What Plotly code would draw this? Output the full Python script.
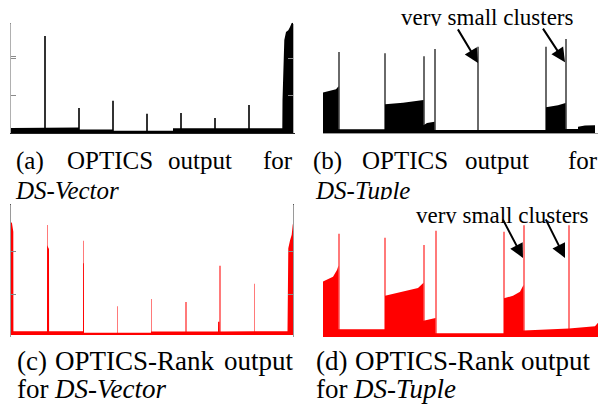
import plotly.graph_objects as go

W, H = 602, 404

# ---------------- data (order index, reachability distance) ----------------
# (a) OPTICS, DS-Vector
a_prof_x = [0, 34, 68, 68, 102, 102, 162, 162, 271.3, 271.5, 272.3, 273.3, 275, 277.3, 279, 280.7, 282]
a_prof_y = [0.14, 0.14, 0.15, 0.10, 0.10, 0.07, 0.07, 0.13, 0.13, 0.87, 2.00, 2.44, 2.65, 2.70, 2.78, 2.89, 2.90]
a_spike_x = [34, 68, 102, 136, 170, 204, 238]
a_spike_y = [2.55, 0.66, 0.85, 0.51, 0.53, 0.40, 0.74]

# (b) OPTICS, DS-Tuple
b_prof_x = [0, 7, 13, 15.5, 15.5, 62, 62, 80, 95, 100.5, 100.5, 104, 111.5, 111.5, 223, 223, 235, 242.5, 242.5, 255, 255, 262, 272]
b_prof_y = [1.08, 1.12, 1.17, 1.25, 0.10, 0.10, 0.77, 0.81, 0.85, 0.88, 0.21, 0.27, 0.30, 0.08, 0.08, 0.69, 0.74, 0.80, 0.11, 0.11, 0.17, 0.20, 0.21]
b_spike_x = [16, 62, 101, 112, 155, 223, 243]
b_spike_y = [2.16, 2.13, 2.05, 2.24, 2.30, 2.30, 2.51]

# (c) OPTICS-Rank, DS-Vector
c_prof_x = [0, 1, 2.3, 2.4, 36, 36.1, 38, 38.1, 72, 72.1, 72.9, 73, 140, 140.1, 207, 207.1, 208.5, 208.6, 276.5, 277.3, 279, 280.7, 281.7, 283]
c_prof_y = [2.63, 2.60, 2.40, 0.09, 0.09, 2.09, 2.00, 0.09, 0.09, 1.67, 1.67, 0.05, 0.05, 0.08, 0.08, 0.31, 0.31, 0.08, 0.09, 2.02, 2.20, 2.33, 2.56, 2.69]
c_spike_x = [36.5, 72.5, 106.5, 140.5, 175, 209, 243.5]
c_spike_y = [2.56, 2.19, 0.67, 0.84, 0.77, 1.61, 1.19]

# (d) OPTICS-Rank, DS-Tuple
d_prof_x = [0, 10, 14, 15.5, 15.5, 62, 62, 80, 95, 100.5, 100.5, 112.5, 112.5, 181, 181, 190, 197, 200.5, 200.5, 246, 246, 272, 275]
d_prof_y = [1.29, 1.40, 1.56, 1.66, 0.18, 0.18, 0.96, 1.05, 1.14, 1.26, 0.38, 0.44, 0.09, 0.09, 0.90, 0.96, 1.05, 1.21, 0.15, 0.20, 0.20, 0.25, 0.33]
d_spike_x = [16, 62, 101, 113, 181, 201, 246]
d_spike_y = [2.40, 2.31, 2.14, 2.47, 2.45, 2.60, 2.60]

# arrows: (spike order, reach at arrow tip)
b_arrow_x = [155, 242]
b_arrow_y = [1.87, 1.89]
d_arrow_x = [200, 242]
d_arrow_y = [1.84, 1.84]

label_text = "very small clusters"
cap_top = [["(a)", "OPTICS", "output", "for"], ["(b)", "OPTICS", "output", "for"]]
cap_top2 = ["<i>DS-Vector</i>", "<i>DS-Tuple</i>"]
cap_bot = [["(c)", "OPTICS-Rank", "output"], ["(d)", "OPTICS-Rank", "output"]]
cap_bot2 = [["for", "<i>DS-Vector</i>"], ["for", "<i>DS-Tuple</i>"]]

# ---------------- layout helpers ----------------
def px_x(x0, x1):
    return [x0 / W, x1 / W]

def px_y(top, bottom):
    return [1 - bottom / H, 1 - top / H]

SERIF = "Liberation Serif, Times New Roman, serif"
fig = go.Figure()

panels = [
    ("x", "y", a_prof_x, a_prof_y, a_spike_x, a_spike_y, "black", "#333333"),
    ("x2", "y2", b_prof_x, b_prof_y, b_spike_x, b_spike_y, "black", "#6a6a6a"),
    ("x3", "y3", c_prof_x, c_prof_y, c_spike_x, c_spike_y, "#ff0000", "#ff7a7a"),
    ("x4", "y4", d_prof_x, d_prof_y, d_spike_x, d_spike_y, "#ff0000", "#ff7a7a"),
]
for xa, ya, px, py, sx, sy, fc, sc in panels:
    fig.add_trace(go.Bar(x=sx, y=sy, width=1, marker=dict(color=sc, line=dict(width=0)),
                         xaxis=xa, yaxis=ya, hoverinfo="skip", showlegend=False))
    fig.add_trace(go.Scatter(x=px, y=py, mode="lines", fill="tozeroy", fillcolor=fc,
                             line=dict(width=0, color=fc), xaxis=xa, yaxis=ya,
                             hoverinfo="skip", showlegend=False))

def text_trace(words, xs, ys, xa, ya, size):
    return go.Scatter(x=xs, y=ys, text=words, mode="text", textposition="middle right",
                      textfont=dict(family=SERIF, size=size, color="black"),
                      cliponaxis=True, xaxis=xa, yaxis=ya, hoverinfo="skip", showlegend=False)

# top captions (helper axis x5/y5, pixel coordinates; baseline = y + size/4)
FS = 25
b1, b2 = 169.3, 198.5
fig.add_trace(text_trace(cap_top[0] + cap_top[1] + cap_top2,
                         [16, 67, 168, 263, 313, 362, 465, 568, 16, 316],
                         [b1 - FS / 4] * 8 + [b2 - FS / 4] * 2, "x5", "y5", FS))
# bottom captions (x6/y6)
FB = 27
c1, c2 = 370, 398
fig.add_trace(text_trace(cap_bot[0] + cap_bot[1] + cap_bot2[0] + cap_bot2[1],
                         [17, 55, 224, 316, 355, 521, 17, 55, 316, 354],
                         [c1 - FB / 4] * 6 + [c2 - FB / 4] * 4, "x6", "y6", FB))
# "very small clusters" labels
LS = 23
fig.add_trace(text_trace([label_text], [401], [25 - LS / 4], "x7", "y7", LS))
fig.add_trace(text_trace([label_text], [416], [222.7 - LS / 4], "x8", "y8", LS))

ax_off = dict(visible=False, showgrid=False, zeroline=False)
yax_common = dict(showgrid=False, zeroline=False, showticklabels=False, ticks="inside",
                  ticklen=5, tickwidth=1, tickvals=[1, 2], showline=True, linewidth=1)

fig.update_layout(
    width=W, height=H, margin=dict(l=0, r=0, t=0, b=0),
    paper_bgcolor="white", plot_bgcolor="rgba(0,0,0,0)",
    barmode="overlay", showlegend=False,
    xaxis=dict(domain=px_x(11, 293), range=[0, 282], **ax_off),
    yaxis=dict(domain=px_y(22.7, 133.3), range=[0, 110.6 / 38.2], linecolor="#8a8a8a",
               tickcolor="#8a8a8a", **yax_common),
    xaxis2=dict(domain=px_x(323, 595), range=[0, 272], **ax_off),
    yaxis2=dict(domain=px_y(24, 133), range=[0, 109 / 37.5], linecolor="#b0b0b0",
                tickcolor="#8a8a8a", mirror="ticks", **yax_common),
    xaxis3=dict(domain=px_x(11, 294), range=[0, 283], showgrid=False, zeroline=False,
                showticklabels=False, ticks="", showline=True, linecolor="#222222", linewidth=1),
    yaxis3=dict(domain=px_y(204, 335), range=[0, 131 / 43], showgrid=False, zeroline=False,
                showticklabels=False, ticks="", showline=True, mirror=True,
                linecolor="#555555", linewidth=1),
    xaxis4=dict(domain=px_x(323, 598), range=[0, 275], showgrid=False, zeroline=False,
                showticklabels=False, ticks="", showline=True, linecolor="#9a9a9a", linewidth=1),
    yaxis4=dict(domain=px_y(205, 337), range=[0, 132 / 43], linecolor="#9a9a9a",
                tickcolor="#8a8a8a", mirror="ticks", **yax_common),
    xaxis5=dict(domain=[0, 1], range=[0, W], **ax_off),
    yaxis5=dict(domain=px_y(138, 199.5), range=[199.5, 138], **ax_off),
    xaxis6=dict(domain=[0, 1], range=[0, W], **ax_off),
    yaxis6=dict(domain=px_y(340, 404), range=[404, 340], **ax_off),
    xaxis7=dict(domain=[0, 1], range=[0, W], **ax_off),
    yaxis7=dict(domain=px_y(0, 26), range=[26, 0], **ax_off),
    xaxis8=dict(domain=[0, 1], range=[0, W], **ax_off),
    yaxis8=dict(domain=px_y(200, 223.5), range=[223.5, 200], **ax_off),
)

anns = []
for x, y, ax, ay in zip(b_arrow_x, b_arrow_y, [-21, -23], [-35, -35]):
    anns.append(dict(x=x, y=y, xref="x2", yref="y2", ax=ax, ay=ay, text="", showarrow=True,
                     arrowhead=2, arrowwidth=2, arrowsize=1.4, arrowcolor="black"))
for x, y, ax, ay in zip(d_arrow_x, d_arrow_y, [-21, -20], [-40, -40]):
    anns.append(dict(x=x, y=y, xref="x4", yref="y4", ax=ax, ay=ay, text="", showarrow=True,
                     arrowhead=2, arrowwidth=2, arrowsize=1.4, arrowcolor="black"))
fig.update_layout(annotations=anns)

fig.write_html("out.html")
